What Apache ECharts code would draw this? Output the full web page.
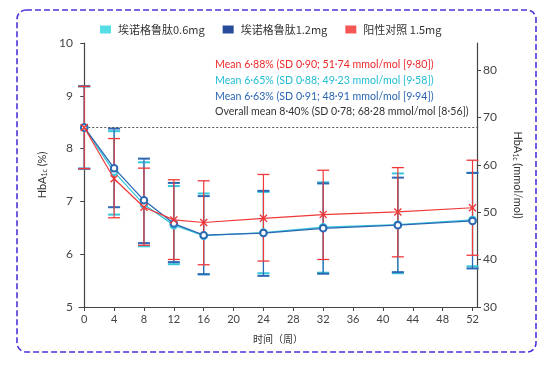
<!DOCTYPE html>
<html><head><meta charset="utf-8">
<script src="https://cdn.jsdelivr.net/npm/echarts@6/dist/echarts.min.js"></script>
<style>html,body{margin:0;padding:0;background:#fff}#c{width:554px;height:366px}</style>
</head><body><div id="c"></div>
<script>
var weeks = [0, 4, 8, 12, 16, 24, 32, 42, 52];
var xTicks = [0, 4, 8, 12, 16, 20, 24, 28, 32, 36, 40, 44, 48, 52];
var rightTicks = [30, 40, 50, 60, 70, 80];
var seriesNames = ['埃诺格鲁肽0.6mg', '埃诺格鲁肽1.2mg', '阳性对照 1.5mg'];
var cyanMean = [8.40, 7.56, 6.94, 6.55, 6.35, 6.41, 6.51, 6.56, 6.65];
var cyanHi   = [9.18, 8.33, 7.74, 7.29, 7.15, 7.18, 7.36, 7.53, 7.54];
var cyanLo   = [7.62, 6.75, 6.15, 5.81, 5.62, 5.64, 5.65, 5.64, 5.77];
var blueMean = [8.40, 7.63, 7.02, 6.58, 6.36, 6.40, 6.49, 6.55, 6.63];
var blueHi   = [9.18, 8.38, 7.81, 7.35, 7.10, 7.20, 7.34, 7.45, 7.54];
var blueLo   = [7.62, 6.89, 6.21, 5.85, 5.62, 5.59, 5.63, 5.66, 5.73];
var redMean  = [8.40, 7.43, 6.89, 6.65, 6.60, 6.68, 6.75, 6.80, 6.88];
var redHi    = [9.18, 8.19, 7.63, 7.41, 7.39, 7.51, 7.59, 7.64, 7.78];
var redLo    = [7.62, 6.69, 6.17, 5.90, 5.80, 5.87, 5.90, 5.95, 5.98];
var overallMean = 8.40;
var notes = [
  'Mean 6·88% (SD 0·90; 51·74 mmol/mol [9·80])',
  'Mean 6·65% (SD 0·88; 49·23 mmol/mol [9·58])',
  'Mean 6·63% (SD 0·91; 48·91 mmol/mol [9·94])',
  'Overall mean 8·40% (SD 0·78; 68·28 mmol/mol [8·56])'
];

var C_CYAN = '#36c6da', C_BLUE = '#2c68b3', C_RED = '#f03838';
var L_CYAN = '#55dde6', L_BLUE = '#284c9b', L_RED = '#f55656';
var FONT = 'Lato, "Noto Sans CJK SC", sans-serif';

function pts(m){ return weeks.map(function(w,i){ return [w, m[i]]; }); }
function errData(lo, hi){ return weeks.map(function(w,i){ return [w, lo[i], hi[i]]; }); }
function errSeries(name, lo, hi, color, capW, z){
  return {
    type: 'custom', name: name, z: z, silent: true,
    data: errData(lo, hi), encode: {x: 0, y: [1, 2]},
    renderItem: function(params, api){
      var x = api.value(0);
      var pH = api.coord([x, api.value(2)]);
      var pL = api.coord([x, api.value(1)]);
      var st = {stroke: color, lineWidth: 1.2};
      var cs = {stroke: color, lineWidth: capW};
      return {type: 'group', children: [
        {type: 'line', shape: {x1: pH[0], y1: pH[1], x2: pL[0], y2: pL[1]}, style: st},
        {type: 'line', shape: {x1: pH[0]-6, y1: pH[1], x2: pH[0]+6, y2: pH[1]}, style: cs},
        {type: 'line', shape: {x1: pL[0]-6, y1: pL[1], x2: pL[0]+6, y2: pL[1]}, style: cs}
      ]};
    }
  };
}
var xSym = 'path://M0,1.2 L1.2,0 L5,3.8 L8.8,0 L10,1.2 L6.2,5 L10,8.8 L8.8,10 L5,6.2 L1.2,10 L0,8.8 L3.8,5 Z';

var chart = echarts.init(document.getElementById('c'), null, {renderer: 'canvas'});
var axisCol = '#444';
chart.setOption({
  animation: false,
  textStyle: {fontFamily: FONT},
  grid: {left: 79, right: 77, top: 43, bottom: 59},
  legend: {
    top: 19, left: 95, itemWidth: 11, itemHeight: 8, itemGap: 18, icon: 'rect',
    itemStyle: {borderWidth: 0},
    textStyle: {fontSize: 11, color: '#333', fontFamily: '"Noto Sans CJK SC", sans-serif', padding: [0,0,0,2]},
    data: [
      {name: seriesNames[0], itemStyle: {color: L_CYAN, borderWidth: 0}},
      {name: seriesNames[1], itemStyle: {color: L_BLUE, borderWidth: 0}},
      {name: seriesNames[2], itemStyle: {color: L_RED, borderWidth: 0}}
    ]
  },
  xAxis: {
    type: 'value', min: -0.7, max: 52.6,
    name: '时间（周）', nameLocation: 'middle', nameGap: 27,
    nameTextStyle: {fontSize: 10, color: '#333', fontFamily: '"Noto Sans CJK SC", sans-serif'},
    axisLine: {lineStyle: {color: axisCol, width: 1.2}},
    axisTick: {show: true, length: 4, customValues: xTicks, lineStyle: {color: axisCol}},
    axisLabel: {customValues: xTicks, fontSize: 11, color: '#444', margin: 7},
    splitLine: {show: false}
  },
  yAxis: [
    {
      type: 'value', min: 5, max: 10, interval: 1, position: 'left',
      name: '{a|HbA}{s|1c}{a| (%)}', nameLocation: 'middle', nameGap: 30, nameRotate: 90,
      nameTextStyle: {rich: {a: {fontSize: 11, color: '#333'}, s: {fontSize: 7, color: '#333', verticalAlign: 'bottom', padding: [5,0,0,0]}}},
      axisLine: {show: true, lineStyle: {color: axisCol, width: 1.2}},
      axisTick: {show: true, length: 4, lineStyle: {color: axisCol}},
      axisLabel: {fontSize: 12, color: '#444', margin: 6},
      splitLine: {show: false}
    },
    {
      type: 'value', min: 30, max: 85.7, position: 'right',
      name: '{a|HbA}{s|1c}{a| (mmol/mol)}', nameLocation: 'middle', nameGap: 35, nameRotate: -90,
      nameTextStyle: {rich: {a: {fontSize: 11, color: '#333'}, s: {fontSize: 7, color: '#333', verticalAlign: 'bottom', padding: [5,0,0,0]}}},
      axisLine: {show: true, lineStyle: {color: axisCol, width: 1.2}},
      axisTick: {show: true, length: 4, customValues: rightTicks, lineStyle: {color: axisCol}},
      axisLabel: {customValues: rightTicks, fontSize: 12, color: '#444', margin: 6},
      splitLine: {show: false}
    }
  ],
  series: [
    errSeries('e0', cyanLo, cyanHi, C_CYAN, 2, 2),
    errSeries('e1', blueLo, blueHi, C_BLUE, 2, 3),
    errSeries('e2', redLo, redHi, C_RED, 1.3, 4),
    {
      type: 'line', name: seriesNames[0], data: pts(cyanMean), z: 5,
      lineStyle: {color: C_CYAN, width: 1.3}, itemStyle: {color: C_CYAN, borderColor: C_CYAN, borderWidth: 1.3},
      symbol: 'emptyCircle', symbolSize: 6.5,
      markLine: {silent: true, symbol: 'none', label: {show: false},
        lineStyle: {color: '#555', type: [2, 2], width: 1},
        data: [[{coord: [0, overallMean]}, {coord: [52.6, overallMean]}]]}
    },
    {
      type: 'line', name: seriesNames[1], data: pts(blueMean), z: 6,
      lineStyle: {color: C_BLUE, width: 1.3}, itemStyle: {color: C_BLUE, borderColor: C_BLUE, borderWidth: 1.3},
      symbol: 'emptyCircle', symbolSize: 6.5
    },
    {
      type: 'line', name: seriesNames[2], data: pts(redMean), z: 7,
      lineStyle: {color: C_RED, width: 1.2}, itemStyle: {color: C_RED},
      symbol: xSym, symbolSize: 8
    }
  ],
  graphic: [
    {type: 'rect', silent: true, shape: {x: 17, y: 10, width: 519, height: 342, r: 9},
      style: {fill: 'none', stroke: '#4b34d8', lineWidth: 1.6, lineDash: [6, 3]}},
    {type: 'text', left: 215, top: 59, style: {text: notes[0], fill: '#ee2a2a', font: '10.6px ' + FONT}},
    {type: 'text', left: 215, top: 75, style: {text: notes[1], fill: '#22bcd6', font: '10.6px ' + FONT}},
    {type: 'text', left: 215, top: 91, style: {text: notes[2], fill: '#2b66b2', font: '10.6px ' + FONT}},
    {type: 'text', left: 215, top: 106, style: {text: notes[3], fill: '#333', font: '10.6px ' + FONT}}
  ]
});
</script>
</body></html>
